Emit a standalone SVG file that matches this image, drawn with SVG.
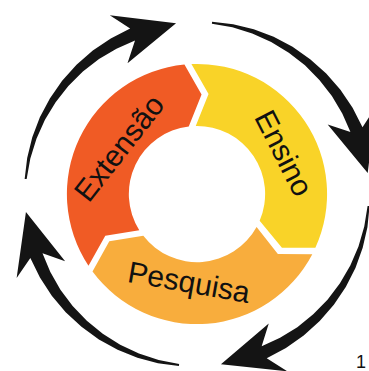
<svg xmlns="http://www.w3.org/2000/svg" xmlns:xlink="http://www.w3.org/1999/xlink" width="369" height="371" viewBox="0 0 369 371">
<style>
.lbl{font-family:"Liberation Sans",Arial,sans-serif;font-size:30px;fill:#111;text-anchor:middle}
.arw{fill:#141414}
</style>
<defs>
<path id="arrow" d="M173,0 L172.32,21.16 L169.05,42.15 L163.22,62.65 L154.90,82.36 L144.22,100.98 L131.29,118.22 L116.31,133.80 L99.47,147.48 L81.04,159.05 L102.49,170.58 L35.76,168.24 L80.61,124.12 L75.13,147.46 L92.89,137.71 L109.38,125.83 L124.35,111.97 L137.57,96.33 L148.83,79.13 L157.93,60.63 L164.74,41.07 L169.12,20.77 L171,0 Z"/>
</defs>
<rect width="369" height="371" fill="#ffffff"/>
<g id="extensao">
<path fill="#F05B25" d="M88.49,265.7 A130,130 0 0 1 184.44,64.55 L201.56,94.44 L188.76,126.40 A68,68 0 0 0 139.28,230.13 L105.29,235.63 Z"/>
<text class="lbl" transform="translate(119,148) rotate(-52)" x="0" y="10.5">Extensão</text>
</g>
<g id="ensino">
<path fill="#F9D328" d="M191.42,64.07 A130,130 0 0 1 315.37,247.84 L281.94,247.74 L259.65,220.66 A68,68 0 0 0 195.74,125.92 L208.55,93.95 Z"/>
<text class="lbl" transform="translate(284,153) rotate(63)" x="0" y="10.5">Ensino</text>
</g>
<g id="pesquisa">
<path fill="#F8AD3D" d="M312.31,254.14 A130,130 0 0 1 92.51,271.44 L109.3,241.37 L143.3,235.87 A68,68 0 0 0 256.59,226.96 L277.87,254.03 Z"/>
<text class="lbl" transform="translate(189,282) rotate(10)" x="0" y="10.5">Pesquisa</text>
</g>
<g id="connectors">
<use xlink:href="#arrow" class="arw" transform="translate(197,194) rotate(185)"/>
<use xlink:href="#arrow" class="arw" transform="translate(197,194) rotate(275)"/>
<use xlink:href="#arrow" class="arw" transform="translate(197,194) rotate(4)"/>
<use xlink:href="#arrow" class="arw" transform="translate(197,194) rotate(96)"/>
</g>
<text x="356" y="368" style="font-family:'Liberation Sans',Arial,sans-serif;font-size:18px;fill:#111">1</text>
</svg>
